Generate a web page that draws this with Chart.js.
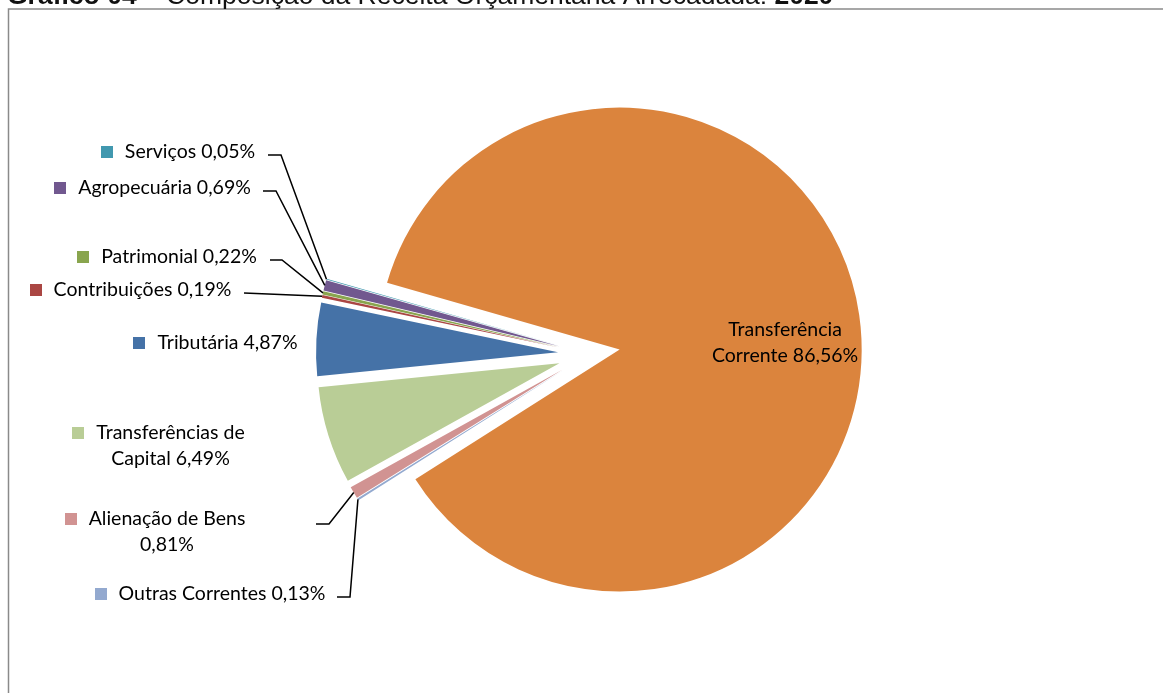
<!DOCTYPE html>
<html>
<head>
<meta charset="utf-8">
<title>Composição da Receita Orçamentária Arrecadada 2020</title>
<script src="https://cdn.jsdelivr.net/npm/chart.js@4/dist/chart.umd.min.js"></script>
<style>
  html, body { margin: 0; padding: 0; background: #fff; }
  #wrap { position: relative; width: 1163px; height: 693px; }
</style>
</head>
<body>
<div id="wrap"><canvas id="receitaChart"></canvas></div>
<script>
// data
const categories = ['Transferência Corrente', 'Outras Correntes', 'Alienação de Bens',
  'Transferências de Capital', 'Tributária', 'Contribuições', 'Patrimonial',
  'Agropecuária', 'Serviços'];
const shares = [86.56, 0.13, 0.81, 6.49, 4.87, 0.19, 0.22, 0.69, 0.05];
const sliceColors = ['#DB843D', '#93A9CF', '#D19392', '#B9CD96', '#4572A7',
  '#AA4643', '#89A54E', '#71588F', '#4198AF'];

// where each label sits (text centre, first line centre), line break and leader stub
const labelLayout = [
  { x: 785, y: 330, breakAfter: 1, noKey: true },
  { x: 222, y: 594, leader: [337, 350, 597] },
  { x: 167, y: 519, breakAfter: 3, leader: [316, 329, 524] },
  { x: 170.5, y: 433, breakAfter: 2 },
  { x: 227.5, y: 343 },
  { x: 142.5, y: 290, leader: [244, 244, 293] },
  { x: 179, y: 257, leader: [270, 282, 260] },
  { x: 164.5, y: 188, leader: [263, 276, 191] },
  { x: 190, y: 152, leader: [268, 281, 155] }
];

const EXPLODE = 31;
const labelFont = '19.5px Lato';

function pct(v) {
  return v.toFixed(2).replace('.', ',') + '%';
}

// every slice pulled out along its own middle angle
const explodePlugin = {
  id: 'explode',
  beforeDatasetDraw(chart, args) {
    const ctx = chart.ctx;
    args.meta.data.forEach(arc => {
      const mid = (arc.startAngle + arc.endAngle) / 2;
      ctx.save();
      ctx.translate(Math.cos(mid) * EXPLODE, Math.sin(mid) * EXPLODE);
      arc.draw(ctx);
      ctx.restore();
    });
    return false;
  }
};

const frameAndLabels = {
  id: 'frameAndLabels',
  beforeDraw(chart) {
    const ctx = chart.ctx;
    ctx.save();
    // frame
    ctx.strokeStyle = '#8a8a8a';
    ctx.lineWidth = 1.5;
    ctx.beginPath();
    ctx.moveTo(8.5, 2000);
    ctx.lineTo(8.5, 9);
    ctx.lineTo(2000, 9);
    ctx.stroke();
    // title, only its lower part shows
    ctx.fillStyle = '#111';
    ctx.textBaseline = 'alphabetic';
    let tx = 7;
    const parts = [['bold', 'Gráfico 04'], ['normal', ' – Composição da Receita Orçamentária Arrecadada: '], ['bold', '2020']];
    parts.forEach(p => {
      ctx.font = p[0] + ' 26.5px "Liberation Sans"';
      ctx.fillText(p[1], tx, 4);
      tx += ctx.measureText(p[1]).width;
    });
    ctx.restore();
  },
  afterDatasetsDraw(chart) {
    const ctx = chart.ctx;
    const meta = chart.getDatasetMeta(0);
    ctx.save();
    ctx.font = labelFont;
    ctx.textBaseline = 'middle';
    ctx.textAlign = 'center';
    meta.data.forEach((arc, i) => {
      const lay = labelLayout[i];
      const words = (categories[i] + ' ' + pct(shares[i])).split(' ');
      const lines = lay.breakAfter
        ? [words.slice(0, lay.breakAfter).join(' '), words.slice(lay.breakAfter).join(' ')]
        : [words.join(' ')];
      ctx.fillStyle = '#000';
      lines.forEach((ln, k) => ctx.fillText(ln, lay.x, lay.y + k * 26));
      if (!lay.noKey) {
        const w = ctx.measureText(lines[0]).width;
        ctx.fillStyle = sliceColors[i];
        ctx.fillRect(Math.round(lay.x - w / 2 - 24), lay.y - 6, 12, 12);
      }
      if (lay.leader) {
        const mid = (arc.startAngle + arc.endAngle) / 2;
        const r = arc.outerRadius + EXPLODE;
        const ax = arc.x + Math.cos(mid) * r;
        const ay = arc.y + Math.sin(mid) * r;
        ctx.strokeStyle = '#000';
        ctx.lineWidth = 1.5;
        ctx.beginPath();
        ctx.moveTo(lay.leader[0], lay.leader[2]);
        ctx.lineTo(lay.leader[1], lay.leader[2]);
        ctx.lineTo(ax, ay);
        ctx.stroke();
      }
    });
    ctx.restore();
  }
};

new Chart(document.getElementById('receitaChart'), {
  type: 'pie',
  data: {
    labels: categories,
    datasets: [{
      data: shares,
      backgroundColor: sliceColors,
      borderWidth: 0
    }]
  },
  options: {
    responsive: true,
    maintainAspectRatio: false,
    animation: false,
    rotation: 286,
    radius: 242,
    layout: { padding: { left: 15, top: 15, right: 0, bottom: 0 } },
    plugins: {
      legend: { display: false },
      tooltip: { enabled: false }
    }
  },
  plugins: [explodePlugin, frameAndLabels]
});
</script>
</body>
</html>
